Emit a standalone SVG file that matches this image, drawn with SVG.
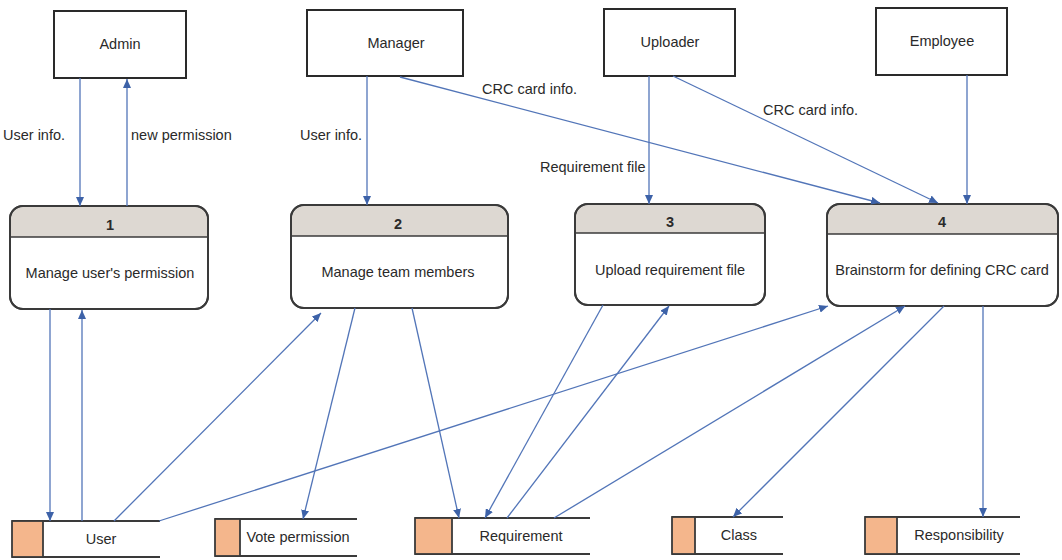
<svg xmlns="http://www.w3.org/2000/svg" width="1062" height="560" viewBox="0 0 1062 560">
<defs>
<marker id="arr" markerWidth="9" markerHeight="8" refX="9" refY="4" orient="auto" markerUnits="userSpaceOnUse">
<path d="M0,0 L9,4 L0,8 z" fill="#3d62a8"/>
</marker>
<style>
text{font-family:"Liberation Sans",Arial,sans-serif;fill:#2a2a2a;font-size:14.5px}
.c{text-anchor:middle}
.num{font-weight:bold}
.ent{fill:#fff;stroke:#2a2a2a;stroke-width:2}
.proc{fill:#fff;stroke:#3a3a3a;stroke-width:2}
.hdr{fill:#ddd8d2}
.sep{stroke:#3a3a3a;stroke-width:1.6}
.orange{fill:#f4b68c;stroke:#3a3a3a;stroke-width:1.8}
.store{stroke:#3a3a3a;stroke-width:1.8}
#connectors line{stroke:#5275b8;stroke-width:1.3;marker-end:url(#arr)}
</style>
</defs>
<rect width="1062" height="560" fill="#fff"/>

<g id="admin"><rect class="ent" x="54" y="11" width="132" height="67"/><text class="c" x="120" y="49">Admin</text></g>
<g id="manager"><rect class="ent" x="307" y="10" width="156" height="66"/><text class="c" x="396" y="48">Manager</text></g>
<g id="uploader"><rect class="ent" x="604" y="9" width="131" height="67"/><text class="c" x="670" y="47">Uploader</text></g>
<g id="employee"><rect class="ent" x="876" y="8" width="131" height="67"/><text class="c" x="942" y="46">Employee</text></g>

<g id="p1">
<rect class="proc" x="10" y="206" width="198" height="103" rx="13"/>
<path class="hdr" d="M11,237 V219 A12,12 0 0 1 23,207 H195 A12,12 0 0 1 207,219 V237 Z"/>
<line class="sep" x1="10" y1="237" x2="208" y2="237"/>
<rect x="10" y="206" width="198" height="103" rx="13" fill="none" stroke="#3a3a3a" stroke-width="2"/>
<text class="c num" x="110" y="230">1</text>
<text class="c" x="110" y="278">Manage user's permission</text>
</g>
<g id="p2">
<rect class="proc" x="291" y="205" width="217" height="103" rx="13"/>
<path class="hdr" d="M292,236 V218 A12,12 0 0 1 304,206 H495 A12,12 0 0 1 507,218 V236 Z"/>
<line class="sep" x1="291" y1="236" x2="508" y2="236"/>
<rect x="291" y="205" width="217" height="103" rx="13" fill="none" stroke="#3a3a3a" stroke-width="2"/>
<text class="c num" x="398" y="229">2</text>
<text class="c" x="398" y="277">Manage team members</text>
</g>
<g id="p3">
<rect class="proc" x="575" y="204" width="190" height="101" rx="13"/>
<path class="hdr" d="M576,233 V217 A12,12 0 0 1 588,205 H752 A12,12 0 0 1 764,217 V233 Z"/>
<line class="sep" x1="575" y1="233" x2="765" y2="233"/>
<rect x="575" y="204" width="190" height="101" rx="13" fill="none" stroke="#3a3a3a" stroke-width="2"/>
<text class="c num" x="670" y="227">3</text>
<text class="c" x="670" y="275">Upload requirement file</text>
</g>
<g id="p4">
<rect class="proc" x="827" y="204" width="231" height="102" rx="13"/>
<path class="hdr" d="M828,234 V217 A12,12 0 0 1 840,205 H1045 A12,12 0 0 1 1057,217 V234 Z"/>
<line class="sep" x1="827" y1="234" x2="1058" y2="234"/>
<rect x="827" y="204" width="231" height="102" rx="13" fill="none" stroke="#3a3a3a" stroke-width="2"/>
<text class="c num" x="942" y="227">4</text>
<text class="c" x="942" y="275">Brainstorm for defining CRC card</text>
</g>

<g id="store-user">
<line class="store" x1="12" y1="521" x2="160" y2="521"/><line class="store" x1="12" y1="557" x2="160" y2="557"/>
<rect class="orange" x="12" y="521" width="31" height="36"/>
<text class="c" x="101" y="544">User</text>
</g>
<g id="store-vote">
<line class="store" x1="215" y1="519" x2="357" y2="519"/><line class="store" x1="215" y1="556" x2="357" y2="556"/>
<rect class="orange" x="215" y="519" width="25" height="37"/>
<text class="c" x="298" y="542">Vote permission</text>
</g>
<g id="store-req">
<line class="store" x1="415" y1="518" x2="590" y2="518"/><line class="store" x1="415" y1="554" x2="590" y2="554"/>
<rect class="orange" x="415" y="518" width="37" height="36"/>
<text class="c" x="521" y="541">Requirement</text>
</g>
<g id="store-class">
<line class="store" x1="672" y1="517" x2="783" y2="517"/><line class="store" x1="672" y1="554" x2="783" y2="554"/>
<rect class="orange" x="672" y="517" width="23" height="37"/>
<text class="c" x="739" y="540">Class</text>
</g>
<g id="store-resp">
<line class="store" x1="865" y1="517" x2="1020" y2="517"/><line class="store" x1="865" y1="554" x2="1020" y2="554"/>
<rect class="orange" x="865" y="517" width="32" height="37"/>
<text class="c" x="959" y="540">Responsibility</text>
</g>

<g id="connectors">
<line x1="80" y1="78" x2="80" y2="206"/>
<line x1="127" y1="206" x2="127" y2="79"/>
<line x1="367" y1="76" x2="367" y2="205"/>
<line x1="400" y1="77" x2="880" y2="203"/>
<line x1="649" y1="76" x2="649" y2="204"/>
<line x1="673" y1="76" x2="938" y2="203"/>
<line x1="967" y1="75" x2="967" y2="204"/>
<line x1="50" y1="309" x2="50" y2="521"/>
<line x1="82" y1="521" x2="82" y2="310"/>
<line x1="114" y1="521" x2="321" y2="313"/>
<line x1="159" y1="521" x2="828" y2="306"/>
<line x1="355" y1="308" x2="303" y2="519"/>
<line x1="412" y1="308" x2="459" y2="518"/>
<line x1="603" y1="305" x2="485" y2="518"/>
<line x1="507" y1="518" x2="669" y2="306"/>
<line x1="554" y1="518" x2="905" y2="306"/>
<line x1="944" y1="306" x2="733" y2="517"/>
<line x1="983" y1="306" x2="983" y2="517"/>
<text x="3" y="140">User info.</text>
<text x="131" y="140">new permission</text>
<text x="300" y="140">User info.</text>
<text x="482" y="94">CRC card info.</text>
<text x="540" y="172">Requirement file</text>
<text x="763" y="115">CRC card info.</text>
</g>
</svg>
